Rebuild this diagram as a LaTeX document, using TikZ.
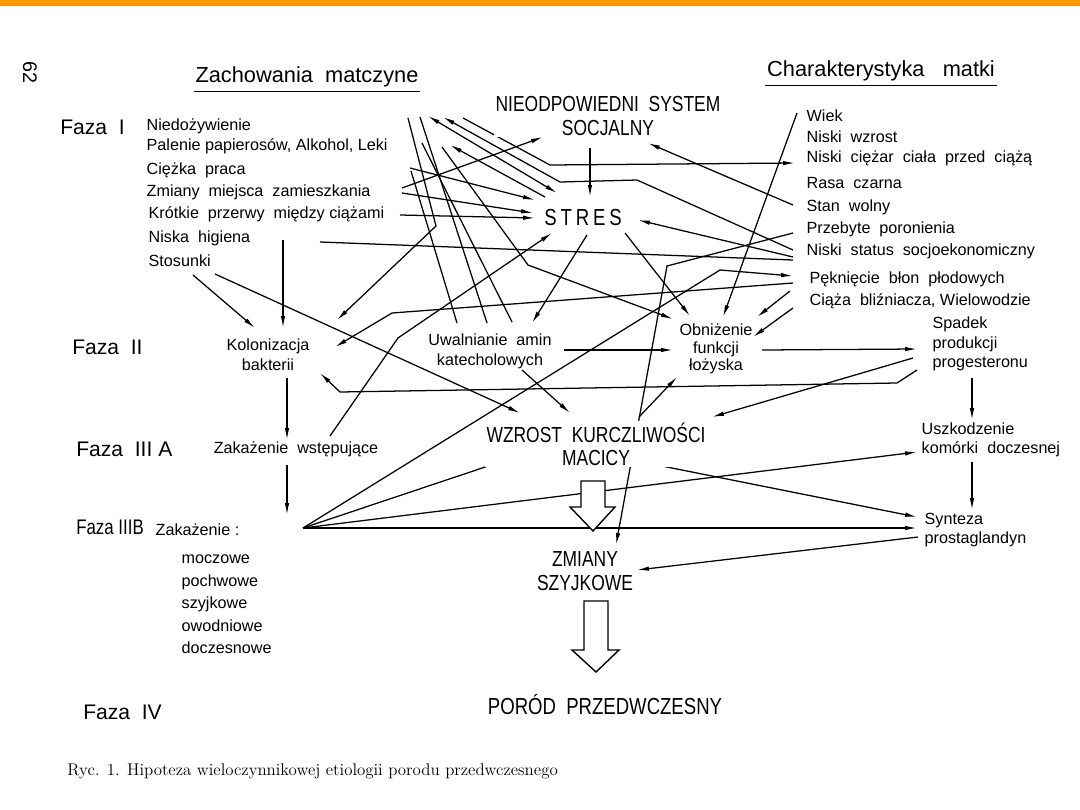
\documentclass[tikz,border=0pt]{standalone}
\usepackage{fontspec}
\setsansfont{Liberation Sans}
\newfontfamily\narrowsf[FakeStretch=0.8]{Liberation Sans}
\usetikzlibrary{arrows.meta,backgrounds}
\definecolor{barorange}{HTML}{FF9A00}
\tikzset{
  txt/.style={font=\sffamily\fontsize{11.5}{14}\selectfont, inner sep=1pt},
  lst/.style={txt, anchor=west},
  head/.style={font=\sffamily\fontsize{15.5}{18}\selectfont, inner sep=1pt},
  faza/.style={font=\sffamily\fontsize{15}{18}\selectfont, anchor=west, inner sep=0pt},
  caps/.style={font=\narrowsf\fontsize{15.5}{16.5}\selectfont, align=center, inner sep=1pt, fill=white},
  conn/.style={line width=0.9pt, -{Latex[length=8.5pt,width=3.2pt]}},
  bconn/.style={line width=0.9pt, {Latex[length=8.5pt,width=3.2pt]}-{Latex[length=8.5pt,width=3.2pt]}},
  link/.style={line width=0.9pt},
  blockarrow/.style={draw, line width=1pt, fill=white, line join=miter},
}

\begin{document}
\begin{tikzpicture}[x=0.025cm, y=-0.025cm]
\path[use as bounding box] (0,0) rectangle (1080,810);
\fill[barorange] (0,0) rectangle (1080,6);

% headings
\node[txt, font=\sffamily\fontsize{14}{16}\selectfont, rotate=-90] (pgno) at (30,72) {62};
\node[head] (zach) at (307,77) {Zachowania~~matczyne};
\node[head] (charm) at (881,71) {Charakterystyka~~~matki};
\draw[line width=0.7pt] ([yshift=-2pt]zach.south west) -- ([yshift=-2pt]zach.south east);
\draw[line width=0.7pt] ([yshift=-2pt]charm.south west) -- ([yshift=-2pt]charm.south east);

% phases
\node[faza] (f1) at (60,127) {Faza~~I};
\node[faza] (f2) at (72,347) {Faza~~II};
\node[faza] (f3a) at (76,449) {Faza~~III A};
\node[faza, font=\narrowsf\fontsize{15}{18}\selectfont] (f3b) at (76,527) {Faza IIIB};
\node[faza] (f4) at (83,712) {Faza~~IV};

% maternal behaviour
\node[lst] (niedoz) at (145,126) {Niedożywienie};
\node[lst] (palenie) at (145,146) {Palenie papierosów, Alkohol, Leki};
\node[lst] (praca) at (145,170) {Ciężka~~praca};
\node[lst] (zmiany) at (145,192) {Zmiany~~miejsca~~zamieszkania};
\node[lst] (przerwy) at (147,214) {Krótkie~~przerwy~~między ciążami};
\node[lst] (higiena) at (147,238) {Niska~~higiena};
\node[lst] (stosunki) at (147,261) {Stosunki};

% maternal characteristics
\node[lst] (wiek) at (805,116) {Wiek};
\node[lst] (wzrost) at (805,137) {Niski~~wzrost};
\node[lst] (ciezar) at (805,158) {Niski~~ciężar~~ciała~~przed~~ciążą};
\node[lst] (rasa) at (805,183) {Rasa~~czarna};
\node[lst] (wolny) at (805,207) {Stan~~wolny};
\node[lst] (poron) at (805,229) {Przebyte~~poronienia};
\node[lst] (status) at (805,251) {Niski~~status~~socjoekonomiczny};
\node[lst] (pekn) at (808,279) {Pęknięcie~~błon~~płodowych};
\node[lst] (blizn) at (808,301) {Ciąża~~bliźniacza,~Wielowodzie};

% central chain
\node[caps] (nss) at (608,116) {NIEODPOWIEDNI~~SYSTEM\\SOCJALNY};
\node[txt, font=\narrowsf\fontsize{16.5}{18}\selectfont] (stres) at (583,218) {S\,T\,R\,E\,S};
\node[txt, align=center] (kolon) at (268,355) {Kolonizacja\\bakterii};
\node[txt, align=center] (amin) at (490,351) {Uwalnianie~~amin\\katecholowych};
\node[txt, align=center, font=\sffamily\fontsize{11.5}{12.5}\selectfont] (lozysko) at (716,349) {Obniżenie\\funkcji\\łożyska};
\node[txt, align=left, anchor=west] (proges) at (931,344) {Spadek\\produkcji\\progesteronu};
\node[txt] (wstep) at (296,449) {Zakażenie~~wstępujące};
\node[caps] (wzrost2) at (596,444) {WZROST~~KURCZLIWOŚCI\\MACICY};
\node[txt, align=left, anchor=west, font=\sffamily\fontsize{11.5}{13.5}\selectfont] (uszk) at (920,440) {Uszkodzenie\\komórki~~doczesnej};
\node[lst] (zakaz) at (154,530) {Zakażenie :};
\node[txt, align=left, anchor=west, font=\sffamily\fontsize{11.5}{13.5}\selectfont] (synt) at (923,530) {Synteza\\prostaglandyn};
\node[caps] (szyj) at (585,571) {ZMIANY\\SZYJKOWE};
\node[caps, font=\narrowsf\fontsize{16.5}{18}\selectfont] (porod) at (605,705) {PORÓD~~PRZEDWCZESNY};

% kinds of infection
\node[lst] (mocz) at (180,559) {moczowe};
\node[lst] (pochw) at (180,582) {pochwowe};
\node[lst] (szyjk) at (180,604) {szyjkowe};
\node[lst] (owodn) at (180,626) {owodniowe};
\node[lst] (docz) at (180,648) {doczesnowe};

% caption
\node[anchor=west, inner sep=0pt, font=\rmfamily\fontsize{12}{14}\selectfont] (ryc) at (67,771) {Ryc. 1. Hipoteza wieloczynnikowej etiologii porodu przedwczesnego};

% connector end points
\coordinate (zmA) at (402,188);   \coordinate (nssL) at (543,137);
\coordinate (cpA) at (410,168);   \coordinate (strA) at (535,200);
\coordinate (zmB) at (402,193);   \coordinate (strB) at (533,213);
\coordinate (krA) at (400,215);   \coordinate (strC) at (535,218);
\coordinate (fanA) at (408,118);  \coordinate (kinkA) at (436,226); \coordinate (kolA) at (337,320);
\coordinate (cpB) at (411,171);   \coordinate (uwA) at (457,323);
\coordinate (fanB) at (420,117);  \coordinate (uwB) at (487,323);
\coordinate (fanC) at (422,143);  \coordinate (uwC) at (512,322);
\coordinate (fanD) at (428,116);  \coordinate (strD) at (557,193);
\coordinate (fanE) at (443,117);  \coordinate (kinkE1) at (560,182); \coordinate (kinkE2) at (637,180); \coordinate (statA) at (793,250);
\coordinate (fanF) at (463,118);  \coordinate (kinkF) at (550,165); \coordinate (cieA) at (795,163);
\coordinate (fanG) at (442,147);  \coordinate (kinkG) at (528,265); \coordinate (obnA) at (673,319);
\coordinate (fanH) at (450,145);  \coordinate (strE) at (545,197);
\coordinate (higA) at (320,242);  \coordinate (statB) at (793,260);
\coordinate (higB) at (283,240);  \coordinate (kolB) at (283,328);
\coordinate (stoA) at (193,275);  \coordinate (kolC) at (255,328);
\coordinate (stoB) at (215,274);  \coordinate (wzA) at (520,413);
\coordinate (nssS) at (590,148);  \coordinate (strF) at (590,197);
\coordinate (wolA) at (793,205);  \coordinate (nssR) at (648,143);
\coordinate (statC) at (793,257); \coordinate (strG) at (638,220);
\coordinate (wstA) at (330,436);  \coordinate (kinkW) at (398,338); \coordinate (strH) at (552,233);
\coordinate (strI) at (587,235);  \coordinate (uwD) at (532,323);
\coordinate (strJ) at (625,233);  \coordinate (obnB) at (690,316);
\coordinate (wiekA) at (797,113); \coordinate (obnC) at (723,317);
\coordinate (przA) at (793,233);  \coordinate (kinkP) at (667,266); \coordinate (zmS) at (616,545);
\coordinate (hub) at (303,528);   \coordinate (kinkH) at (720,270); \coordinate (pekA) at (793,276);
\coordinate (pekB) at (793,283);  \coordinate (kinkK) at (392,313); \coordinate (kolD) at (335,347);
\coordinate (pekC) at (790,291);  \coordinate (obnD) at (757,317);
\coordinate (ciaA) at (793,308);  \coordinate (obnE) at (753,337);
\coordinate (uwE) at (564,350);   \coordinate (obnF) at (673,350);
\coordinate (obnG) at (762,350);  \coordinate (spdA) at (917,349);
\coordinate (uwF) at (522,370);   \coordinate (wzB) at (570,413);
\coordinate (wzC) at (639,417);   \coordinate (obnH) at (677,377);
\coordinate (spdB) at (913,358);  \coordinate (wzD) at (712,417);
\coordinate (spdC) at (917,370);  \coordinate (kinkS1) at (897,383); \coordinate (kinkS2) at (340,392); \coordinate (kolE) at (320,373);
\coordinate (spdD) at (972,378);  \coordinate (uszA) at (972,420);
\coordinate (uszB) at (972,462);  \coordinate (synA) at (972,510);
\coordinate (synB) at (918,537);  \coordinate (zmR) at (637,570);
\coordinate (wzE) at (637,461);   \coordinate (synC) at (917,517);
\coordinate (kolF) at (287,378);  \coordinate (wstB) at (287,440);
\coordinate (wstC) at (287,465);  \coordinate (zakA) at (287,515);
\coordinate (wzF) at (527,453);   \coordinate (uszC) at (917,452); \coordinate (synD) at (917,528);

\begin{scope}[on background layer]
% behaviour side
\draw[conn] (zmA) -- (nssL);
\draw[conn] (cpA) -- (strA);
\draw[conn] (zmB) -- (strB);
\draw[conn] (krA) -- (strC);
\draw[conn] (fanA) -- (kinkA) -- (kolA);
\draw[link] (cpB) -- (uwA);
\draw[link] (fanB) -- (uwB);
\draw[link] (fanC) -- (uwC);
\draw[bconn] (fanD) -- (strD);
\draw[conn] (statA) -- (kinkE2) -- (kinkE1) -- (fanE);
\draw[conn] (fanF) -- (kinkF) -- (cieA);
\draw[conn] (fanG) -- (kinkG) -- (obnA);
\draw[conn] (strE) -- (fanH);
\draw[link] (higA) -- (statB);
\draw[conn] (higB) -- (kolB);
\draw[conn] (stoA) -- (kolC);
\draw[conn] (stoB) -- (wzA);
% social system and stress
\draw[conn] (nssS) -- (strF);
\draw[conn] (wolA) -- (nssR);
\draw[conn] (statC) -- (strG);
\draw[conn] (wstA) -- (kinkW) -- (strH);
\draw[conn] (strI) -- (uwD);
\draw[conn] (strJ) -- (obnB);
% characteristics side
\draw[conn] (wiekA) -- (obnC);
\draw[conn] (przA) -- (kinkP) -- (zmS);
\draw[conn] (hub) -- (kinkH) -- (pekA);
\draw[conn] (pekB) -- (kinkK) -- (kolD);
\draw[conn] (pekC) -- (obnD);
\draw[conn] (ciaA) -- (obnE);
% placenta, hormones
\draw[conn] (uwE) -- (obnF);
\draw[conn] (obnG) -- (spdA);
\draw[conn] (uwF) -- (wzB);
\draw[conn] (wzC) -- (obnH);
\draw[conn] (spdB) -- (wzD);
\draw[conn] (spdC) -- (kinkS1) -- (kinkS2) -- (kolE);
\draw[conn] (spdD) -- (uszA);
\draw[conn] (uszB) -- (synA);
\draw[conn] (synB) -- (zmR);
\draw[bconn] (wzE) -- (synC);
% infection
\draw[conn] (kolF) -- (wstB);
\draw[conn] (wstC) -- (zakA);
\draw[conn] (hub) -- (wzF);
\draw[conn] (hub) -- (uszC);
\draw[conn] (hub) -- (synD);
\end{scope}

% block arrows
\draw[blockarrow] (581,481) -- (605,481) -- (605,507) -- (615,507) -- (593,531) -- (570,507) -- (581,507) -- cycle;
\draw[blockarrow] (584,601) -- (608,601) -- (608,650) -- (619,650) -- (596,672) -- (572,650) -- (584,650) -- cycle;
\end{tikzpicture}
\end{document}
